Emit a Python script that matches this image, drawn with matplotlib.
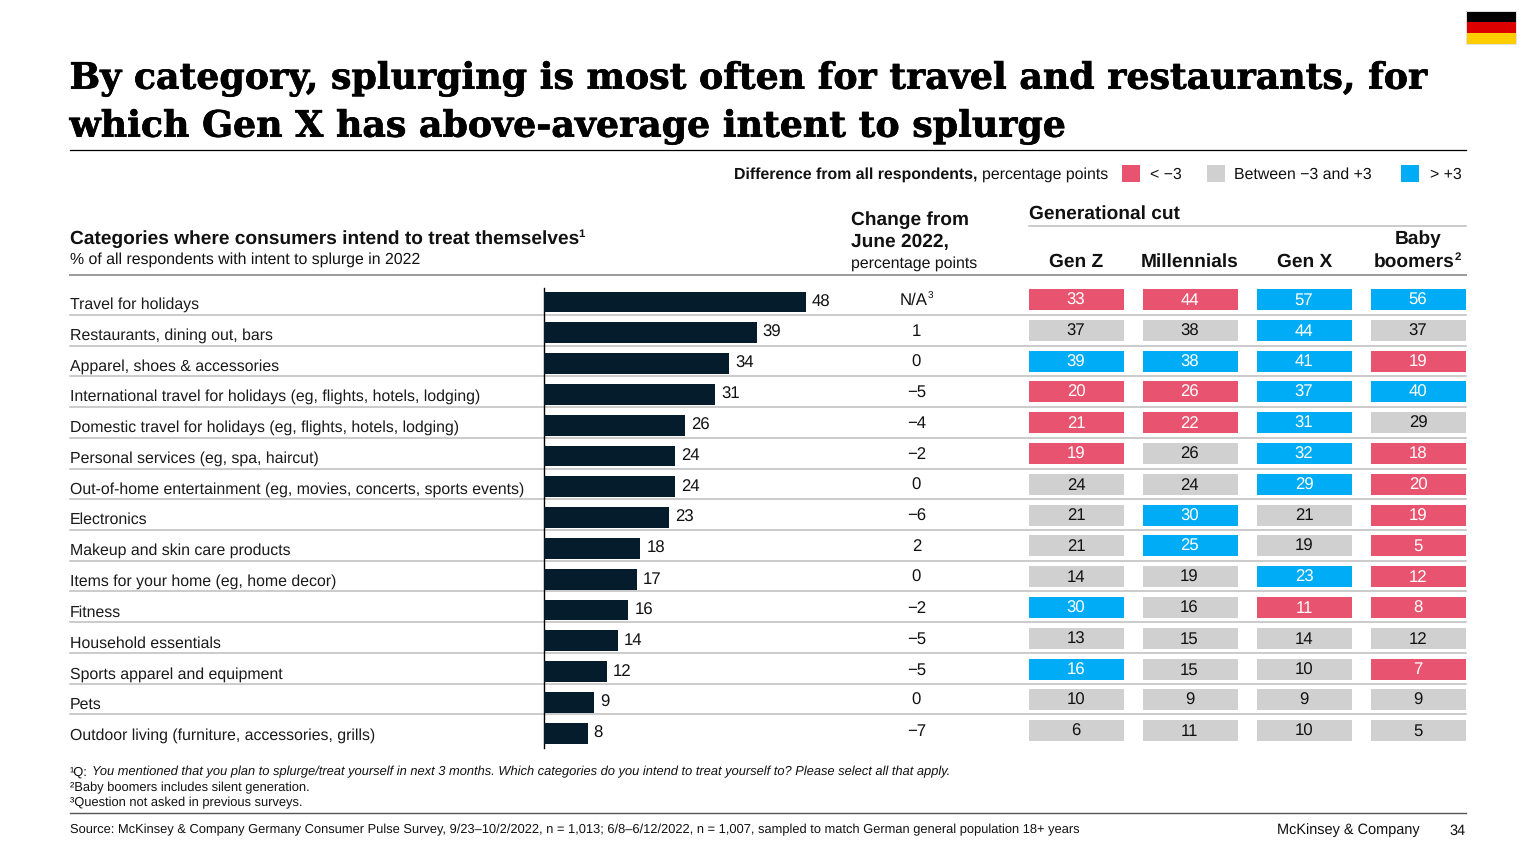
import matplotlib
matplotlib.use("Agg")
import matplotlib.pyplot as plt
from matplotlib.patches import Rectangle
import matplotlib.patheffects as pe

plt.rcParams['font.family'] = ['Liberation Sans', 'DejaVu Sans']
plt.rcParams['text.hinting'] = 'no_hinting'
plt.rcParams['text.hinting_factor'] = 8

categories = ["Travel for holidays", "Restaurants, dining out, bars", "Apparel, shoes & accessories",
              "International travel for holidays (eg, flights, hotels, lodging)",
              "Domestic travel for holidays (eg, flights, hotels, lodging)",
              "Personal services (eg, spa, haircut)",
              "Out-of-home entertainment (eg, movies, concerts, sports events)",
              "Electronics", "Makeup and skin care products", "Items for your home (eg, home decor)",
              "Fitness", "Household essentials", "Sports apparel and equipment", "Pets",
              "Outdoor living (furniture, accessories, grills)"]
overall_labels = [48, 39, 34, 31, 26, 24, 24, 23, 18, 17, 16, 14, 12, 9, 8]
overall_lengths = [47.9, 38.9, 33.8, 31.3, 25.8, 23.9, 23.9, 22.9, 17.6, 17.0, 15.4, 13.5, 11.5, 9.1, 8.0]
change = ["N/A", "1", "0", "−5", "−4", "−2", "0", "−6", "2", "0", "−2", "−5", "−5", "0", "−7"]
gen_z = [33, 37, 39, 20, 21, 19, 24, 21, 21, 14, 30, 13, 16, 10, 6]
millennials = [44, 38, 38, 26, 22, 26, 24, 30, 25, 19, 16, 15, 15, 9, 11]
gen_x = [57, 44, 41, 37, 31, 32, 29, 21, 19, 23, 11, 14, 10, 9, 10]
boomers = [56, 37, 19, 40, 29, 18, 20, 19, 5, 12, 8, 12, 7, 9, 5]
gen_z_cls = list("rgbrrrggggbgbgg")
millennials_cls = list("rgbrrggbbgggggg")
gen_x_cls = list("bbbbbbbggbrgggg")
boomers_cls = list("bgrbgrrrrrrgrgg")

RED, BLUE, GREY, NAVY = "#E8546F", "#00ACF5", "#D0D0D0", "#051C2C"
SEP = "#BDBDBD"
colors = {"r": RED, "b": BLUE, "g": GREY}
W, H = 1536, 864
n = len(categories)
PITCH = 30.8
NUM_PX = 16.7

fig = plt.figure(figsize=(W / 100, H / 100), dpi=100, facecolor="white")
bg = fig.add_axes([0, 0, 1, 1])
bg.set_xlim(0, W); bg.set_ylim(H, 0); bg.axis("off")

def T(x, y, s, px=16, **kw):
    kw.setdefault("va", "center"); kw.setdefault("color", "#111111")
    return bg.text(x, y, s, fontsize=px * 0.72, **kw)

def with_sup(x, y, s, sup, px, **kw):
    t = T(x, y, s, px, **kw)
    bb = t.get_window_extent(fig.canvas.get_renderer())
    T(bb.x1 - 0.5, y - px * 0.26, sup, px * 0.6, fontweight=kw.get("fontweight", "normal"))

def pixel_axes(x0, x1, y0, y1):
    ax = fig.add_axes([x0 / W, 1 - y1 / H, (x1 - x0) / W, (y1 - y0) / H])
    ax.axis("off"); ax.patch.set_alpha(0)
    return ax

# title
title_font = dict(family="DejaVu Serif", fontweight="bold", color="black",
                  path_effects=[pe.withStroke(linewidth=0.5, foreground="black")])
T(69.5, 79, "By category, splurging is most often for travel and restaurants, for", 36.3, **title_font)
T(69.5, 127, "which Gen X has above-average intent to splurge", 36.3, **title_font)
bg.plot([70, 1466], [150, 150], color="black", lw=0.9)

# flag
for i, c in enumerate(["#000000", "#DD0000", "#FFCE00"]):
    bg.add_patch(Rectangle((1466, 11 + i * 11), 50, 11, fc=c, ec="none"))
bg.add_patch(Rectangle((1466, 11), 50, 33, fc="none", ec="#E4E4E4", lw=0.7))

# legend
T(977, 175, "Difference from all respondents,", 15.88, ha="right", fontweight="bold")
T(982, 175, "percentage points", 15.88)
for x, c in [(1122, RED), (1207, GREY), (1401, BLUE)]:
    bg.add_patch(Rectangle((x, 164.5), 18, 17, fc=c, ec="none"))
T(1150, 175, "< −3", 15.88)
T(1234, 175, "Between −3 and +3", 15.88)
T(1429.5, 175, "> +3", 15.88)

# headers
with_sup(69.5, 239, "Categories where consumers intend to treat themselves", "1", 19.1, fontweight="bold")
T(69.5, 260, "% of all respondents with intent to splurge in 2022", 15.88)
T(851, 220, "Change from", 19.1, fontweight="bold")
T(851, 242.5, "June 2022,", 19.1, fontweight="bold")
T(851, 264, "percentage points", 15.88)
T(1029, 214, "Generational cut", 19.1, fontweight="bold")
bg.plot([1029, 1466], [225.5, 225.5], color=SEP, lw=1.1)
bg.plot([70, 1466], [274.5, 274.5], color="#9A9A9A", lw=1.4)

# rows
for i in range(n - 1):
    y = 315 + i * 30.72
    bg.plot([70, 1466], [y, y], color=SEP, lw=1.1)
for i, c in enumerate(categories):
    T(69.5, 304.5 + i * PITCH, c, 15.94, color="#1a1a1a")
for i, c in enumerate(change):
    if c == "N/A":
        with_sup(900, 300.5, c, "3", NUM_PX)
    else:
        T(916.5, 300.5 + i * PITCH, c, NUM_PX, ha="center")

# bars
PX_PER_UNIT = 5.47
bar_top = 302 - PITCH / 2
bar_ax = pixel_axes(544, 544 + 60 * PX_PER_UNIT, bar_top, bar_top + n * PITCH)
bar_ax.set_xlim(0, 60); bar_ax.set_ylim(n - 0.5, -0.5)
bar_ax.barh(range(n), overall_lengths, height=0.68, color=NAVY)
for i, (v, lab) in enumerate(zip(overall_lengths, overall_labels)):
    bar_ax.annotate(str(lab), (v, i), xytext=(6, 0), textcoords="offset pixels", va="center",
                    fontsize=NUM_PX * 0.72, color="#111111")
bg.plot([543.5, 543.5], [288, 748], color="black", lw=1.0, zorder=5)

# heat table
gen_names = ["Gen Z", "Millennials", "Gen X"]
gen_values = [gen_z, millennials, gen_x, boomers]
gen_classes = [gen_z_cls, millennials_cls, gen_x_cls, boomers_cls]
col_left = [1029, 1142.5, 1257, 1371]
col_w = 95
for j, (vals, cls) in enumerate(zip(gen_values, gen_classes)):
    x0 = col_left[j]
    top = 299.5 - PITCH / 2
    ax = pixel_axes(x0, x0 + col_w, top, top + n * PITCH)
    ax.set_xlim(0, 1); ax.set_ylim(n - 0.5, -0.5)
    ax.barh(range(n), [1] * n, height=0.68, color=[colors[c] for c in cls])
    for i, v in enumerate(vals):
        ax.annotate(str(v), (0.5, i), xytext=(-0.5, -1), textcoords="offset pixels",
                    ha="center", va="center", fontsize=NUM_PX * 0.72,
                    color="white" if cls[i] != "g" else "#111111")
    if j < 3:
        T(x0 + col_w / 2, 262, gen_names[j], 19.1, ha="center", fontweight="bold")
T(1418.5, 239, "Baby", 19.1, ha="center", fontweight="bold")
with_sup(1374, 262, "boomers", "2", 19.1, fontweight="bold")

# footnotes
T(69.5, 772, "¹Q:", 12.92)
T(92, 772, "You mentioned that you plan to splurge/treat yourself in next 3 months. Which categories do you intend to treat yourself to? Please select all that apply.",
  12.92, style="italic")
T(69.5, 788, "²Baby boomers includes silent generation.", 12.92)
T(69.5, 803, "³Question not asked in previous surveys.", 12.92)
bg.plot([70, 1466], [813, 813], color="#555555", lw=1.0)
T(69.5, 830, "Source: McKinsey & Company Germany Consumer Pulse Survey, 9/23–10/2/2022, n = 1,013; 6/8–6/12/2022, n = 1,007, sampled to match German general population 18+ years", 12.92)
T(1420, 830.5, "McKinsey & Company", 14.5, ha="right")
T(1466, 830.5, "34", 14.5, ha="right")

fig.savefig("out.png", dpi=100, facecolor="white")
